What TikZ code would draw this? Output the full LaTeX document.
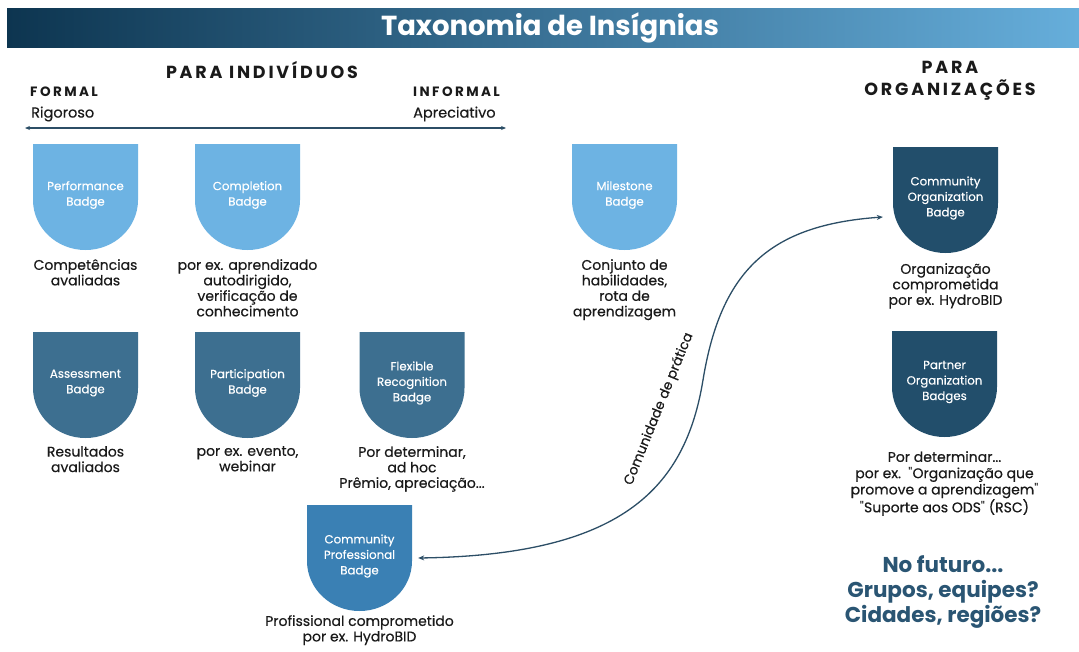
\documentclass[tikz,border=0pt]{standalone}
\usepackage{fontspec}
\setmainfont{Poppins}
\newfontfamily\popq{Poppins}
\usetikzlibrary{arrows.meta}
\definecolor{titleL}{HTML}{0D3550}
\definecolor{titleR}{HTML}{66AEDB}
\definecolor{lightB}{HTML}{6DB3E3}
\definecolor{midB}{HTML}{3D6F90}
\definecolor{profB}{HTML}{3A80B4}
\definecolor{orgB}{HTML}{224E6B}
\definecolor{labc}{HTML}{1A1A1A}
\definecolor{connc}{HTML}{2C4E66}
\definecolor{futc}{HTML}{2A5573}
\newcommand{\sq}{{\popq"}}
\newcommand{\badgeshape}[5]{%
  \fill[#3] (#1-52.5,-#2) -- (#1+52.5,-#2) -- (#1+52.5,-#2-56) arc[start angle=0,end angle=-180,x radius=52.5,y radius=50] -- cycle;
  \node[badgebox] (#4) at (#1,-#2-53) {};
  \node[btext] (#4-t) at (#1,-#2-51) {#5};
}
\begin{document}
\begin{tikzpicture}[x=1pt,y=1pt,
  badgebox/.style={minimum width=105pt,minimum height=106pt,inner sep=0pt,draw=none},
  btext/.style={font=\fontsize{11.8}{15.5}\selectfont\addfontfeatures{FakeBold=0.3},text=white,align=center,inner sep=0pt},
  lab/.style={font=\fontsize{14}{15.5}\selectfont\addfontfeatures{FakeBold=0.4},text=labc,align=center,anchor=north,inner sep=0pt,execute at begin node={\rule{0pt}{11pt}}},
  hdr/.style={font=\bfseries\fontsize{17.5}{22}\selectfont\addfontfeatures{LetterSpace=16},text=labc,align=center,inner sep=0pt},
  subhdr/.style={font=\bfseries\fontsize{13.5}{14}\selectfont\addfontfeatures{LetterSpace=18},text=labc,inner sep=0pt},
  sublab/.style={font=\fontsize{14.5}{15}\selectfont\addfontfeatures{FakeBold=0.3},text=labc,inner sep=0pt},
  conn/.style={draw=connc,line width=1.3pt,{Stealth[length=6pt,width=5pt]}-{Stealth[length=6pt,width=5pt]}},
  axis/.style={draw=connc,line width=1.1pt,{Stealth[length=5pt,width=4pt]}-{Stealth[length=5pt,width=4pt]}},
  fut/.style={font=\bfseries\fontsize{21.5}{25}\selectfont,text=futc,align=center,anchor=north,inner sep=0pt,execute at begin node={\rule{0pt}{15pt}}}
]
\useasboundingbox (0,0) rectangle (1079,-651);
\fill[white] (0,0) rectangle (1079,-651);
% title bar
\shade[left color=titleL,right color=titleR] (7,-8) rectangle (1079,-47);
\node[font=\bfseries\fontsize{27.5}{30}\selectfont,text=white,inner sep=0pt] (title) at (550,-28) {Taxonomia de Insígnias};
% headers
\node[hdr] (pind) at (262,-70) {PARA INDIVÍDUOS};
\node[subhdr,anchor=west] (formal) at (30,-92) {FORMAL};
\node[sublab,anchor=west] (rig) at (31,-114) {Rigoroso};
\node[subhdr,anchor=west] (informal) at (413,-92) {INFORMAL};
\node[sublab,anchor=west] (apr) at (413,-114) {Apreciativo};
\coordinate (axl) at (25,-128);
\coordinate (axr) at (506,-128);
\draw[axis] (axl) -- (axr);
\node[hdr] (porg) at (950,-81) {PARA\\ORGANIZAÇÕES};
% badges
\badgeshape{85.5}{144}{lightB}{perf}{Performance\\Badge}
\badgeshape{247.5}{144}{lightB}{comp}{Completion\\Badge}
\badgeshape{624.5}{144}{lightB}{mile}{Milestone\\Badge}
\badgeshape{945.5}{147}{orgB}{corg}{Community\\Organization\\Badge}
\badgeshape{944.5}{331}{orgB}{porg2}{Partner\\Organization\\Badges}
\badgeshape{85.5}{332}{midB}{asse}{Assessment\\Badge}
\badgeshape{247.5}{332}{midB}{part}{Participation\\Badge}
\badgeshape{412}{332}{midB}{flex}{Flexible\\Recognition\\Badge}
\badgeshape{359.5}{505}{profB}{cpro}{Community\\Professional\\Badge}
% labels
\node[lab] (perf-l) at (85.5,-259) {Competências\\avaliadas};
\node[lab] (comp-l) at (247.5,-259) {por ex. aprendizado\\autodirigido,\\verificação de\\conhecimento};
\node[lab] (mile-l) at (624.5,-259) {Conjunto de\\habilidades,\\rota de\\aprendizagem};
\node[lab] (corg-l) at (945.5,-263) {Organização\\comprometida\\por ex. HydroBID};
\node[lab] (asse-l) at (85.5,-446) {Resultados\\avaliados};
\node[lab] (part-l) at (247.5,-446) {por ex. evento,\\webinar};
\node[lab] (flex-l) at (412,-446) {Por determinar,\\ad hoc\\Prêmio, apreciação...};
\node[lab,font=\fontsize{14}{16.3}\selectfont\addfontfeatures{FakeBold=0.4}] (porg-l) at (944.5,-451) {Por determinar...\\por ex.\ \ \sq Organização que\\promove a aprendizagem\sq\\\sq Suporte aos ODS\sq\ (RSC)};
\node[lab] (cpro-l) at (359.5,-615) {Profissional comprometido\\por ex. HydroBID};
\node[fut] (future) at (943,-555) {No futuro...\\Grupos, equipes?\\Cidades, regiões?};
% connector
\draw[conn] ([xshift=6pt]cpro.east) .. controls (620,-555) and (685,-490) .. (703,-380) .. controls (721,-270) and (770,-225) .. ([shift={(-10pt,-17pt)}]corg.west);
\node[font=\fontsize{13.5}{15}\selectfont\addfontfeatures{FakeBold=0.3},text=labc,rotate=68,inner sep=0pt] (cdp) at (659,-409) {Comunidade de prática};
\end{tikzpicture}
\end{document}
